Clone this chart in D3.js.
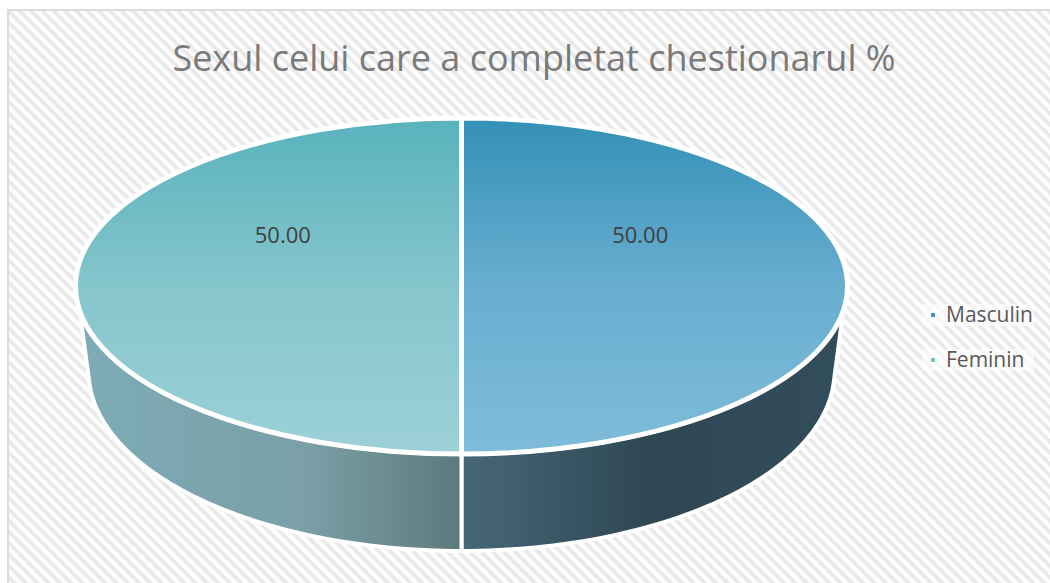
<!DOCTYPE html>
<html>
<head>
<meta charset="utf-8">
<script src="https://cdn.jsdelivr.net/npm/d3@7"></script>
<style>
  body { margin: 0; background: #fff; }
  text { font-family: "Open Sans", sans-serif; fill: #595959; }
</style>
</head>
<body>
<div id="chart"></div>
<script>
const categories = ['Masculin', 'Feminin'];
const values = [50, 50];
const labels = ['50.00', '50.00'];
const titleText = 'Sexul celui care a completat chestionarul %';

const width = 1050, height = 583;

//top of the pie is an ellipse, the bottom one is a bit smaller (perspective)
const cx = 461.5, cy = 286, rx = 386, ry = 168;
const bottom = {cy: 371, rx: 373, ry: 180};

const svg = d3.select('#chart').append('svg')
  .attr('width', width)
  .attr('height', height)
  .style('display', 'block');

const defs = svg.append('defs');

//diagonal stripes of the chart area
const stripes = defs.append('pattern')
  .attr('id', 'stripes')
  .attr('width', 8)
  .attr('height', 8)
  .attr('patternUnits', 'userSpaceOnUse')
  .attr('patternTransform', 'rotate(45)');
stripes.append('rect').attr('width', 8).attr('height', 8).attr('fill', '#fdfdfd');
stripes.append('rect').attr('width', 8).attr('height', 3.6).attr('fill', '#e8e8e8');

//horizontal gradients use page coords, vertical ones the box of the slice
function gradient(id, horizontal, stops) {
  const g = defs.append('linearGradient').attr('id', id);
  if (horizontal) {
    g.attr('gradientUnits', 'userSpaceOnUse')
      .attr('x1', horizontal[0]).attr('x2', horizontal[1])
      .attr('y1', 0).attr('y2', 0);
  } else {
    g.attr('x1', 0).attr('x2', 0).attr('y1', 0).attr('y2', 1);
  }
  stops.forEach(s => {
    g.append('stop').attr('offset', s[0]).attr('stop-color', s[1]);
  });
}
gradient('topMasculin', null, [[0, '#3490b6'], [0.5, '#68aed0'], [1, '#7fbcda']]);
gradient('topFeminin', null, [[0, '#58b2bc'], [0.5, '#85c5cc'], [1, '#9cd1d7']]);
gradient('sideMasculin', [461, 845], [[0, '#466779'], [0.5, '#2f4753'], [1, '#324d5b']]);
gradient('sideFeminin', [77, 461], [[0, '#7eacb6'], [0.6, '#7a9fa7'], [1, '#5c797b']]);

svg.append('rect')
  .attr('x', 8)
  .attr('y', 10)
  .attr('width', width)
  .attr('height', height)
  .attr('fill', 'url(#stripes)')
  .attr('stroke', '#dcdcdc')
  .attr('stroke-width', 2);

const pie = d3.pie().sort(null).startAngle(0).endAngle(2 * Math.PI);
const slices = pie(values);

const topFill = ['url(#topMasculin)', 'url(#topFeminin)'];
const sideFill = ['url(#sideMasculin)', 'url(#sideFeminin)'];

//pie angles: 0 at the top, clockwise
const onTop = a => [cx + rx * Math.sin(a), cy - ry * Math.cos(a)];
const onBottom = a => [cx + bottom.rx * Math.sin(a), bottom.cy - bottom.ry * Math.cos(a)];

const line = d3.line();

//the wall is only visible on the front half of the pie
const wallAngle = 1.72;
const bottomAngle = 1.65;
function wallPath(d) {
  const isRight = d.startAngle < Math.PI;
  const topFrom = isRight ? wallAngle : 2 * Math.PI - wallAngle;
  const botFrom = isRight ? bottomAngle : 2 * Math.PI - bottomAngle;
  const upper = d3.range(0, 61).map(i => topFrom + (Math.PI - topFrom) * i / 60);
  const lower = d3.range(0, 61).map(i => Math.PI + (botFrom - Math.PI) * i / 60);
  return line(upper.map(onTop).concat(lower.map(onBottom))) + 'Z';
}

svg.selectAll('.wall')
  .data(slices)
  .enter()
  .append('path')
  .attr('class', 'wall')
  .attr('d', wallPath)
  .attr('fill', (d, i) => sideFill[i])
  .attr('stroke', '#fff')
  .attr('stroke-width', 4)
  .attr('stroke-linejoin', 'round');

const arc = d3.arc().innerRadius(0).outerRadius(rx);

svg.selectAll('.slice')
  .data(slices)
  .enter()
  .append('path')
  .attr('class', 'slice')
  .attr('d', arc)
  .attr('transform', `translate(${cx},${cy}) scale(1,${ry / rx})`)
  .attr('fill', (d, i) => topFill[i])
  .attr('stroke', '#fff')
  .attr('stroke-width', 5)
  .attr('vector-effect', 'non-scaling-stroke');

//data labels
svg.selectAll('.value')
  .data(slices)
  .enter()
  .append('text')
  .attr('class', 'value')
  .attr('x', d => cx + rx * 0.463 * Math.sin((d.startAngle + d.endAngle) / 2))
  .attr('y', 243)
  .attr('text-anchor', 'middle')
  .style('font-size', '22px')
  .style('fill', '#404040')
  .text((d, i) => labels[i]);

svg.append('text')
  .attr('x', 534)
  .attr('y', 71)
  .attr('text-anchor', 'middle')
  .style('font-size', '36px')
  .style('fill', '#7a7a7a')
  .text(titleText);

//legend
const legendColor = ['#3f97bd', '#76c2cb'];
const legendY = d3.scalePoint().domain(categories).range([315, 360]);

const legend = svg.selectAll('.legend')
  .data(categories)
  .enter()
  .append('g')
  .attr('class', 'legend')
  .attr('transform', d => `translate(0,${legendY(d)})`);

legend.append('rect')
  .attr('x', 922)
  .attr('y', -11)
  .attr('width', 112)
  .attr('height', 22)
  .attr('fill', '#fff')
  .attr('opacity', 0.6);

legend.append('rect')
  .attr('x', 931)
  .attr('y', -2)
  .attr('width', 4)
  .attr('height', 4)
  .attr('fill', (d, i) => legendColor[i]);

legend.append('text')
  .attr('x', 946)
  .attr('y', 7)
  .style('font-size', '21px')
  .text(d => d);
</script>
</body>
</html>
